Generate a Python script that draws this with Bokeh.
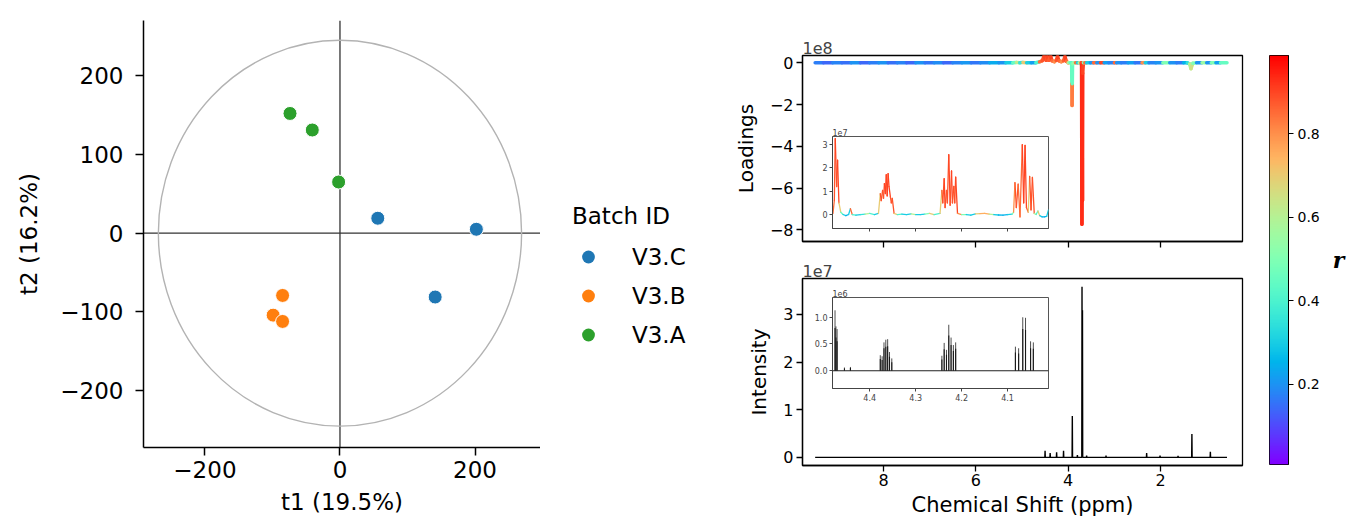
import numpy as np
from bokeh.plotting import figure
from bokeh.layouts import row, column
from bokeh.models import (Range1d, FixedTicker, Span, Legend, LegendItem, LinearColorMapper,
                          ColumnDataSource, CustomJSTickFormatter)
from bokeh.transform import linear_cmap
from bokeh.embed import file_html
from bokeh.resources import INLINE

FONT = "DejaVu Sans"

# ---------------- PCA score plot data ----------------
batch_ids = ["V3.C", "V3.B", "V3.A"]
batch_colors = ["#1f77b4", "#ff7f0e", "#2ca02c"]
t1_c = [56, 202, 141]
t2_c = [19, 5, -81]
t1_b = [-85, -99, -85]
t2_b = [-79, -104, -112]
t1_a = [-74, -41, -2]
t2_a = [152, 131, 65]
ellipse_a = [269]      # Hotelling ellipse semi-axis along t1
ellipse_b = [245]      # Hotelling ellipse semi-axis along t2
t1_ticks = [-200, 0, 200]
t2_ticks = [-200, -100, 0, 100, 200]

# ---------------- Loadings (x1e8) coloured by r ----------------
load_ppm = [9.48, 9.30, 9.10, 8.90, 8.70, 8.50, 8.30, 8.10, 7.90, 7.70,
            7.50, 7.30, 7.10, 6.90, 6.70, 6.50, 6.30, 6.10, 5.90, 5.70,
            5.50, 5.35, 5.20, 5.12, 5.05, 4.98, 4.90, 4.80, 4.70, 4.62,
            4.56, 4.52, 4.48, 4.45, 4.42, 4.38, 4.35, 4.30, 4.26, 4.23,
            4.20, 4.15, 4.10, 4.07, 4.04, 4.00, 3.96, 3.93, 3.925, 3.920,
            3.915, 3.910, 3.905, 3.88, 3.84, 3.80, 3.76, 3.72, 3.710, 3.702,
            3.697, 3.690, 3.684, 3.670, 3.64, 3.60, 3.52, 3.45, 3.38, 3.30,
            3.22, 3.12, 3.00, 2.95, 2.85, 2.70, 2.55, 2.40, 2.33, 2.25,
            2.10, 1.95, 1.80, 1.65, 1.50, 1.42, 1.37, 1.34, 1.30, 1.22,
            1.10, 1.00, 0.90, 0.80, 0.70, 0.56]
load_val = [0, 0, 0, 0, 0, 0, 0, 0, 0, 0,
            0, 0, 0, 0, 0, 0, 0, 0, 0, 0,
            0, 0, 0, 0.02, 0, 0.02, 0, 0, 0, 0.05,
            0.10, 0.33, 0.12, 0.30, 0.12, 0.32, 0.10, 0.05, 0.12, 0.30,
            0.10, 0.05, 0.10, 0.30, 0.08, 0, 0, 0, -0.05, -1.0,
            -2.05, -1.0, -0.05, 0, 0, 0, 0, 0, -0.1, -7.73,
            -3.0, -6.6, -0.5, 0, 0, 0, 0, 0, 0, 0,
            0, 0, 0, 0, 0, 0, 0, 0, 0, 0,
            0, 0, 0, 0, 0, 0, -0.05, -0.28, -0.02, 0,
            0, 0, 0, 0, 0, 0]
load_r = [0.17, 0.14, 0.18, 0.15, 0.20, 0.14, 0.17, 0.20, 0.15, 0.18,
          0.14, 0.20, 0.16, 0.19, 0.14, 0.18, 0.21, 0.16, 0.19, 0.24,
          0.20, 0.30, 0.45, 0.62, 0.35, 0.70, 0.30, 0.22, 0.40, 0.85,
          0.88, 0.90, 0.88, 0.90, 0.87, 0.90, 0.85, 0.80, 0.88, 0.90,
          0.86, 0.80, 0.87, 0.90, 0.85, 0.60, 0.45, 0.42, 0.45, 0.80,
          0.83, 0.45, 0.50, 0.55, 0.85, 0.30, 0.60, 0.90, 0.93, 0.93,
          0.93, 0.93, 0.90, 0.50, 0.85, 0.30, 0.20, 0.85, 0.20, 0.90,
          0.22, 0.18, 0.85, 0.20, 0.17, 0.22, 0.16, 0.80, 0.30, 0.18,
          0.20, 0.50, 0.20, 0.17, 0.25, 0.35, 0.60, 0.65, 0.50, 0.20,
          0.55, 0.20, 0.50, 0.22, 0.45, 0.20]
load_ticks = [0, -2, -4, -6, -8]

# ---------------- Loadings inset (x1e7), 4.48-4.01 ppm ----------------
ins_ppm = [4.480, 4.477, 4.475, 4.472, 4.470, 4.467, 4.463, 4.458, 4.452, 4.446, 4.442, 4.438, 4.430, 4.420, 4.410, 4.400, 4.390, 4.381,
           4.377, 4.375, 4.372, 4.370, 4.368, 4.366, 4.364, 4.362, 4.360, 4.358, 4.355, 4.353, 4.351, 4.347,
           4.340, 4.330, 4.320, 4.310, 4.300, 4.290, 4.280, 4.270, 4.260, 4.247,
           4.243, 4.241, 4.238, 4.236, 4.233, 4.231, 4.228, 4.225, 4.222, 4.220, 4.217, 4.215, 4.213, 4.209,
           4.200, 4.190, 4.180, 4.170, 4.160, 4.150, 4.140, 4.130, 4.120, 4.110, 4.100, 4.090, 4.087,
           4.084, 4.081, 4.077, 4.073, 4.068, 4.065, 4.062, 4.059, 4.055, 4.052, 4.049, 4.046, 4.042,
           4.038, 4.034, 4.030, 4.025, 4.020, 4.015, 4.011]
ins_val = [0.05, 0.60, 3.26, 1.20, 2.33, 0.50, 0.10, 0.00, -0.05, 0.00, 0.25, 0.00, -0.03, 0.00, 0.02, 0.05, 0.00, 0.05,
           0.90, 0.60, 1.04, 0.70, 1.33, 0.90, 1.71, 0.80, 1.76, 1.20, 0.76, 0.50, 0.69, 0.05,
           0.00, 0.02, 0.00, 0.03, 0.00, 0.00, 0.02, 0.05, 0.00, 0.05,
           1.04, 0.50, 1.54, 0.30, 1.04, 0.50, 2.57, 0.40, 1.87, 0.50, 1.21, 0.50, 1.61, 0.05,
           0.00, 0.00, -0.03, 0.03, 0.04, 0.05, 0.02, 0.00, -0.02, -0.03, 0.00, 0.02, 0.10,
           1.37, 0.30, 1.30, -0.10, 3.00, 0.50, 2.97, 0.30, 0.10, 1.64, 0.20, 1.59, 0.05,
           0.00, 0.15, -0.05, -0.10, -0.10, -0.08, 0.20]
ins_r = [0.85, 0.88, 0.90, 0.88, 0.90, 0.70, 0.45, 0.30, 0.25, 0.30, 0.85, 0.40, 0.30, 0.35, 0.60, 0.40, 0.30, 0.70,
         0.88, 0.88, 0.88, 0.88, 0.90, 0.90, 0.90, 0.90, 0.90, 0.90, 0.88, 0.88, 0.88, 0.70,
         0.40, 0.30, 0.30, 0.60, 0.30, 0.30, 0.50, 0.70, 0.40, 0.70,
         0.88, 0.88, 0.90, 0.88, 0.88, 0.88, 0.90, 0.88, 0.90, 0.88, 0.88, 0.88, 0.90, 0.80,
         0.50, 0.30, 0.30, 0.70, 0.75, 0.75, 0.60, 0.30, 0.25, 0.25, 0.30, 0.50, 0.80,
         0.88, 0.88, 0.85, 0.85, 0.90, 0.90, 0.90, 0.88, 0.70, 0.88, 0.88, 0.88, 0.60,
         0.40, 0.70, 0.30, 0.25, 0.25, 0.30, 0.50]
ins_ticks_y = [0, 1, 2, 3]
inset_ppm_ticks = [4.4, 4.3, 4.2, 4.1]

# ---------------- Mean spectrum (x1e7) ----------------
spec_ppm = [9.48,
            4.505, 4.50, 4.495, 4.395, 4.39, 4.385, 4.255, 4.25, 4.245, 4.105, 4.10, 4.095,
            3.915, 3.91, 3.905, 3.805, 3.80, 3.795,
            3.705, 3.70, 3.695, 3.69, 3.685,
            3.605, 3.60, 3.595, 3.185, 3.18, 3.175, 2.305, 2.30, 2.295, 2.015, 2.01, 2.005,
            1.625, 1.62, 1.615, 1.325, 1.32, 1.315, 0.925, 0.92, 0.915,
            0.56]
spec_int = [0,
            0, 0.14, 0, 0, 0.09, 0, 0, 0.11, 0, 0, 0.14, 0,
            0, 0.87, 0, 0, 0.05, 0,
            0, 3.58, 0.8, 3.09, 0,
            0, 0.04, 0, 0, 0.04, 0, 0, 0.09, 0, 0, 0.04, 0,
            0, 0.03, 0, 0, 0.49, 0, 0, 0.12, 0,
            0]
spec_ticks_x = [8, 6, 4, 2]
spec_ticks_y = [0, 1, 2, 3]

# ---------------- Spectrum inset (x1e6), overlaid samples ----------------
sins_ppm = [4.4755, 4.4735, 4.471, 4.455, 4.442, 4.377, 4.373, 4.369, 4.365, 4.361, 4.357, 4.352,
            4.243, 4.238, 4.233, 4.228, 4.223, 4.218, 4.213, 4.083, 4.076, 4.067, 4.061, 4.050, 4.044]
sins_s1 = [1.13, 0.83, 0.78, 0.06, 0.07, 0.29, 0.27, 0.53, 0.58, 0.59, 0.35, 0.23,
           0.28, 0.52, 0.39, 0.86, 0.62, 0.48, 0.53, 0.45, 0.42, 1.00, 0.99, 0.55, 0.53]
sins_s2 = [0.80, 0.62, 0.55, 0.04, 0.05, 0.22, 0.20, 0.42, 0.45, 0.46, 0.26, 0.16,
           0.21, 0.40, 0.30, 0.66, 0.48, 0.37, 0.41, 0.34, 0.32, 0.78, 0.76, 0.42, 0.41]
sins_ticks_y = [0, 0.5, 1]

# ---------------- colour bar ----------------
r_low, r_high = 0.008, 0.987
r_ticks = [0.2, 0.4, 0.6, 0.8]

# matplotlib "rainbow" colormap
_xs = np.linspace(0, 1, 256)
_rr = np.clip(np.abs(2 * _xs - 0.5), 0, 1)
_gg = np.clip(np.sin(np.pi * _xs), 0, 1)
_bb = np.clip(np.cos(np.pi * _xs / 2), 0, 1)
RAINBOW = ["#%02x%02x%02x" % (int(round(a * 255)), int(round(b * 255)), int(round(c * 255)))
           for a, b, c in zip(_rr, _gg, _bb)]

MINUS = CustomJSTickFormatter(code="return (tick < 0 ? '\\u2212' : '') + Math.abs(tick);")


def base_fig(**kw):
    p = figure(output_backend="svg", toolbar_location=None, **kw)
    p.grid.visible = False
    p.background_fill_color = "white"
    p.border_fill_color = "white"
    return p


def style_axis(ax, size, label_size=None, tick_out=6, standoff=4, label_standoff=8,
               color="black", width=1.3):
    ax.major_label_text_font = FONT
    ax.major_label_text_font_size = size
    ax.major_label_text_color = color
    ax.axis_label_text_font = FONT
    ax.axis_label_text_font_size = label_size or size
    ax.axis_label_text_font_style = "normal"
    ax.axis_label_text_color = color
    ax.major_tick_out = tick_out
    ax.major_tick_in = 0
    ax.minor_tick_line_color = None
    ax.major_tick_line_color = color
    ax.major_tick_line_width = width
    ax.axis_line_color = color
    ax.axis_line_width = width
    ax.major_label_standoff = standoff
    ax.axis_label_standoff = label_standoff


def ticks_only(ax):
    ax.major_label_text_color = None
    ax.major_label_text_font_size = "5px"
    ax.major_label_standoff = 0


# =============== left: score plot ===============
p1 = base_fig(width=540, height=522, x_range=Range1d(-291, 297), y_range=Range1d(-272, 270),
              min_border_left=143, min_border_right=0, min_border_top=20, min_border_bottom=75)
p1.outline_line_color = None
p1.ellipse(x=[0], y=[0], width=[2 * a for a in ellipse_a], height=[2 * b for b in ellipse_b],
           fill_color=None, line_color="#b3b3b3", line_width=1.4)
p1.add_layout(Span(location=0, dimension="height", line_color="#333333", line_width=1.3, level="underlay"))
p1.add_layout(Span(location=0, dimension="width", line_color="#333333", line_width=1.3, level="underlay"))
p1.scatter(t1_c, t2_c, size=14, fill_color=batch_colors[0], line_color="white", line_width=1)
p1.scatter(t1_b, t2_b, size=14, fill_color=batch_colors[1], line_color="white", line_width=1)
p1.scatter(t1_a, t2_a, size=14, fill_color=batch_colors[2], line_color="white", line_width=1)
p1.xaxis.ticker = FixedTicker(ticks=t1_ticks)
p1.yaxis.ticker = FixedTicker(ticks=t2_ticks)
p1.xaxis.formatter = MINUS
p1.yaxis.formatter = MINUS
p1.xaxis.axis_label = "t1 (19.5%)"
p1.yaxis.axis_label = "t2 (16.2%)"
style_axis(p1.xaxis[0], "23px", tick_out=8, standoff=5, label_standoff=8, width=1.5)
style_axis(p1.yaxis[0], "23px", tick_out=8, standoff=12, label_standoff=15, width=1.5)

# legend panel (own small canvas beside the score plot; the scores fall outside its ranges)
pl = base_fig(width=190, height=522, x_range=Range1d(0, 1), y_range=Range1d(0, 1),
              min_border=0, x_axis_location=None, y_axis_location=None)
pl.outline_line_color = None
lc = pl.scatter(t1_c, t2_c, size=14, fill_color=batch_colors[0], line_color=None)
lb = pl.scatter(t1_b, t2_b, size=14, fill_color=batch_colors[1], line_color=None)
la = pl.scatter(t1_a, t2_a, size=14, fill_color=batch_colors[2], line_color=None)
legend = Legend(items=[LegendItem(label=batch_ids[0], renderers=[lc]),
                       LegendItem(label=batch_ids[1], renderers=[lb]),
                       LegendItem(label=batch_ids[2], renderers=[la])],
                title="Batch ID", location=(32, 168))
legend.title_text_font = FONT
legend.title_text_font_size = "23px"
legend.title_text_font_style = "normal"
legend.title_text_color = "black"
legend.label_text_font = FONT
legend.label_text_font_size = "23px"
legend.label_text_color = "black"
legend.glyph_width = 32
legend.glyph_height = 39
legend.label_height = 39
legend.spacing = 0
legend.padding = 0
legend.margin = 0
legend.label_standoff = 28
legend.title_standoff = 8
legend.border_line_color = None
legend.background_fill_alpha = 0
pl.add_layout(legend)

# =============== right top: loadings ===============
r_cmap = linear_cmap("r", RAINBOW, r_low, r_high)
p2 = base_fig(width=522, height=255, x_range=Range1d(9.754, 0.224), y_range=Range1d(-8.56, 0.35),
              min_border_left=72, min_border_right=10, min_border_top=55, min_border_bottom=14,
              title="1e8")
p2.outline_line_color = "black"
p2.outline_line_width = 1.3
src_load = ColumnDataSource(dict(x0=load_ppm[:-1], x1=load_ppm[1:], y0=load_val[:-1],
                                 y1=load_val[1:], r=load_r[:-1]))
p2.segment("x0", "y0", "x1", "y1", source=src_load, line_color=r_cmap, line_width=3.5,
           line_cap="round")
p2.xaxis.ticker = FixedTicker(ticks=spec_ticks_x)
p2.yaxis.ticker = FixedTicker(ticks=load_ticks)
p2.yaxis.formatter = MINUS
p2.yaxis.axis_label = "Loadings"
style_axis(p2.yaxis[0], "16px", label_size="20px", tick_out=6, standoff=3, label_standoff=9)
style_axis(p2.xaxis[0], "16px", tick_out=6, standoff=0, label_standoff=0)
ticks_only(p2.xaxis[0])
p2.title.text_font = FONT
p2.title.text_font_size = "16px"
p2.title.text_font_style = "normal"
p2.title.align = "left"
p2.title.standoff = 3

# inset of loadings
ins1 = base_fig(width=240, height=110, x_range=Range1d(4.481, 4.011), y_range=Range1d(-0.6, 3.35),
                min_border_left=22, min_border_right=2, min_border_top=12, min_border_bottom=6,
                title="1e7")
ins1.outline_line_color = "#555555"
ins1.outline_line_width = 1
src_ins = ColumnDataSource(dict(x0=ins_ppm[:-1], x1=ins_ppm[1:], y0=ins_val[:-1],
                                y1=ins_val[1:], r=ins_r[:-1]))
ins1.segment("x0", "y0", "x1", "y1", source=src_ins, line_color=r_cmap, line_width=1.3,
             line_cap="round")
ins1.xaxis.ticker = FixedTicker(ticks=inset_ppm_ticks)
ins1.yaxis.ticker = FixedTicker(ticks=ins_ticks_y)
style_axis(ins1.xaxis[0], "8px", tick_out=3, standoff=0, label_standoff=0, color="#444444", width=1)
style_axis(ins1.yaxis[0], "8px", tick_out=3, standoff=2, label_standoff=0, color="#444444", width=1)
ticks_only(ins1.xaxis[0])
ins1.title.text_font = FONT
ins1.title.text_font_size = "8px"
ins1.title.text_font_style = "normal"
ins1.title.text_color = "#444444"
ins1.title.align = "left"
ins1.title.standoff = 1

# =============== right bottom: spectrum ===============
p3 = base_fig(width=522, height=267, x_range=Range1d(9.754, 0.224), y_range=Range1d(-0.17, 3.755),
              min_border_left=72, min_border_right=10, min_border_top=23, min_border_bottom=57,
              title="1e7")
p3.outline_line_color = "black"
p3.outline_line_width = 1.3
p3.line(spec_ppm, spec_int, line_color="black", line_width=1.4)
p3.xaxis.ticker = FixedTicker(ticks=spec_ticks_x)
p3.yaxis.ticker = FixedTicker(ticks=spec_ticks_y)
p3.xaxis.axis_label = "Chemical Shift (ppm)"
p3.yaxis.axis_label = "Intensity"
style_axis(p3.xaxis[0], "16px", label_size="21px", tick_out=6, standoff=2, label_standoff=4)
style_axis(p3.yaxis[0], "16px", label_size="20px", tick_out=6, standoff=3, label_standoff=9)
p3.title.text_font = FONT
p3.title.text_font_size = "16px"
p3.title.text_font_style = "normal"
p3.title.align = "left"
p3.title.standoff = 3

# inset of spectrum
ins2 = base_fig(width=240, height=118, x_range=Range1d(4.481, 4.011), y_range=Range1d(-0.333, 1.37),
                min_border_left=22, min_border_right=2, min_border_top=12, min_border_bottom=14,
                title="1e6")
ins2.outline_line_color = "#555555"
ins2.outline_line_width = 1
ins2.add_layout(Span(location=0, dimension="width", line_color="#222222", line_width=1.1))
ins2.segment(x0=sins_ppm, y0=[0] * len(sins_ppm), x1=sins_ppm, y1=sins_s1,
             line_color="#222222", line_width=1.0, line_alpha=0.8)
ins2.segment(x0=sins_ppm, y0=[0] * len(sins_ppm), x1=sins_ppm, y1=sins_s2,
             line_color="#111111", line_width=1.1, line_alpha=0.9)
ins2.xaxis.ticker = FixedTicker(ticks=inset_ppm_ticks)
ins2.yaxis.ticker = FixedTicker(ticks=sins_ticks_y)
ins2.yaxis.formatter = CustomJSTickFormatter(code="return tick.toFixed(1);")
style_axis(ins2.xaxis[0], "8px", tick_out=3, standoff=2, label_standoff=0, color="#444444", width=1)
style_axis(ins2.yaxis[0], "8px", tick_out=3, standoff=2, label_standoff=0, color="#444444", width=1)
ins2.title.text_font = FONT
ins2.title.text_font_size = "8px"
ins2.title.text_font_style = "normal"
ins2.title.text_color = "#444444"
ins2.title.align = "left"
ins2.title.standoff = 1

# =============== colour bar ===============
r_mapper = LinearColorMapper(palette=RAINBOW, low=r_low, high=r_high)
p5 = base_fig(width=95, height=522, x_range=Range1d(0, 1), y_range=Range1d(r_low, r_high),
              min_border_left=17, min_border_right=57, min_border_top=55, min_border_bottom=58,
              y_axis_location="right", x_axis_location=None)
grad = np.linspace(r_low, r_high, 256).reshape(256, 1)
p5.image(image=[grad], x=0, y=r_low, dw=1, dh=r_high - r_low, color_mapper=r_mapper)
p5.outline_line_color = "black"
p5.outline_line_width = 1
p5.yaxis.ticker = FixedTicker(ticks=r_ticks)
p5.yaxis.axis_label = "r"
style_axis(p5.yaxis[0], "14px", tick_out=5, standoff=4, label_standoff=10, width=1)
p5.yaxis.axis_label_text_font = "DejaVu Serif"
p5.yaxis.axis_label_text_font_style = "bold italic"
p5.yaxis.axis_label_text_font_size = "22px"
try:
    p5.yaxis[0].axis_label_orientation = "horizontal"
except Exception:
    pass

ins1_box = row(ins1, margin=(-131, 0, 21, 80))
ins2_box = row(ins2, margin=(-237, 0, 119, 80))
right_col = column(p2, ins1_box, p3, ins2_box)
layout = row(column(p1), column(pl), right_col, column(p5))
open("out.html", "w").write(file_html(layout, INLINE))
